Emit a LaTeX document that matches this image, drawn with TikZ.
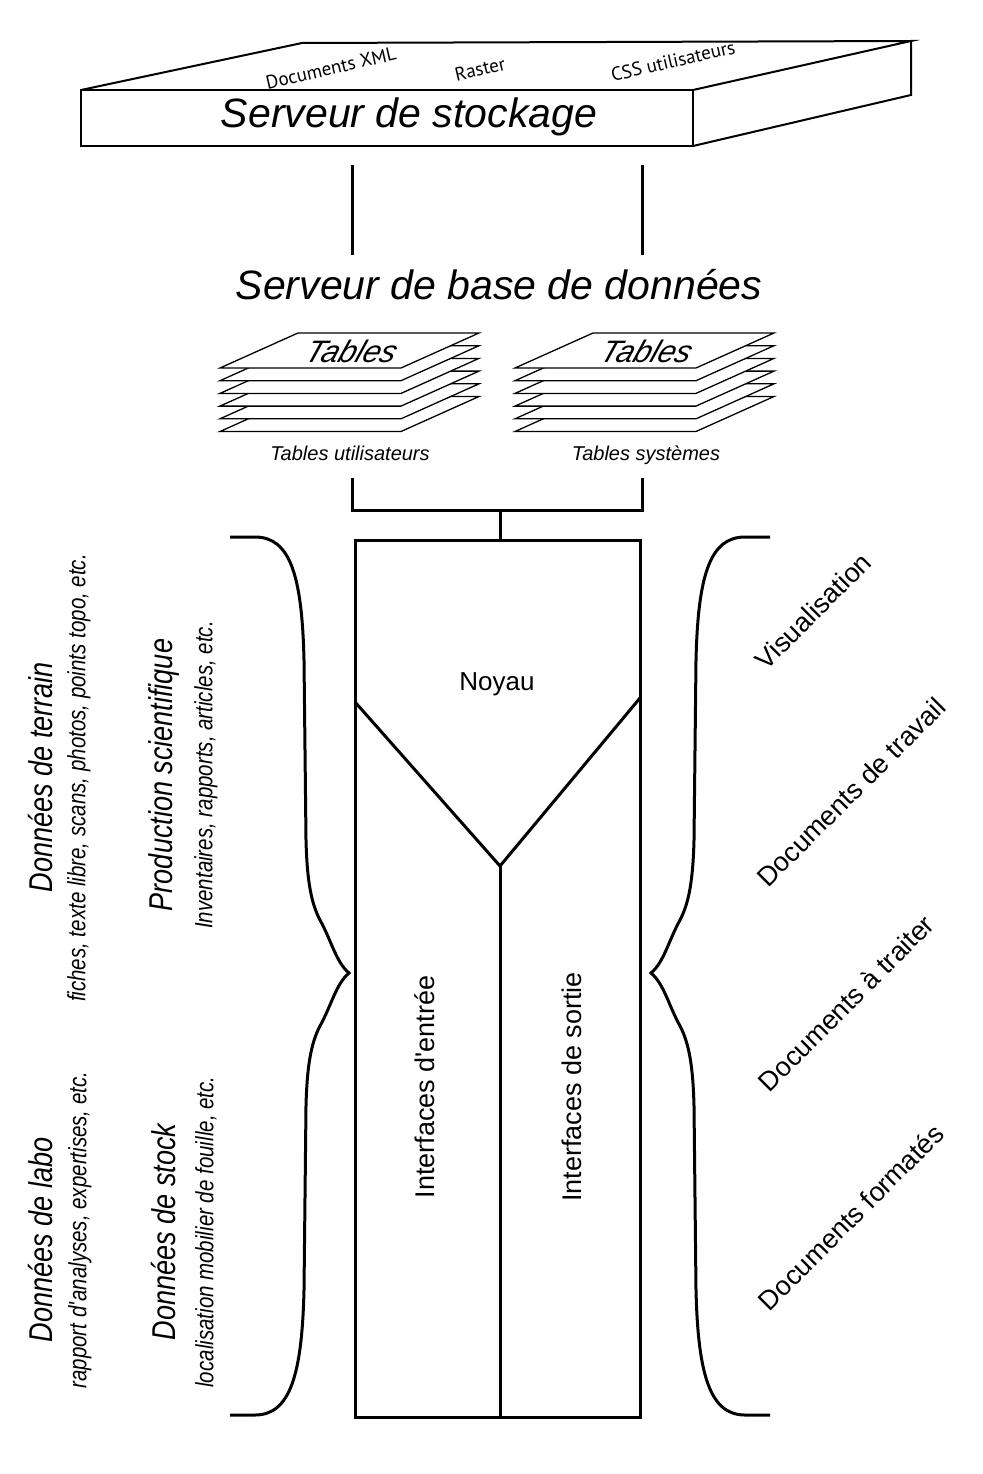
\documentclass[tikz,border=0pt]{standalone}
\usepackage{fontspec}
\setmainfont{Liberation Sans}
\newfontfamily\narrowfont[FakeStretch=0.82]{Liberation Sans}
\newfontfamily\humanist{PT Sans}
\newcommand{\fs}[1]{\fontsize{#1}{#1}\selectfont}
\begin{document}
\begin{tikzpicture}[x=1pt,y=-1pt,line join=miter,
  thick3/.style={line width=3},
  boxline/.style={line width=2},
  sheet/.style={fill=white,draw,line width=1.3},
  toptext/.style={font=\humanist\fs{19},rotate=13,inner sep=0},
  lefthead/.style={font=\narrowfont\itshape\fs{33},rotate=90,inner sep=0},
  leftsub/.style={font=\narrowfont\itshape\fs{25},rotate=90,inner sep=0},
  righttext/.style={font=\fs{27},rotate=45,inner sep=0},
  captext/.style={font=\itshape\fs{20},inner sep=0,anchor=base},
  brace/.style={line width=3,line cap=butt}]
\useasboundingbox (0,0) rectangle (982,1474);
\fill[white] (0,0) rectangle (982,1474);

% storage server
\node[draw,boxline,minimum width=612,minimum height=56,inner sep=0,outer sep=0] (stor) at (387,118) {};
\coordinate (bl) at (302,43);
\coordinate (br) at (911,41);
\coordinate (brb) at (911,95);
\draw[boxline] (stor.north west) -- (bl) -- (br) -- (stor.north east);
\draw[boxline] (stor.south east) -- (brb) -- (br);
\node[font=\itshape\fs{41},inner sep=0] (storlabel) at (409,117) {Serveur de stockage};
\node[toptext] (xml) at (331,68) {Documents XML};
\node[toptext] (raster) at (480,69) {Raster};
\node[toptext] (css) at (673,61) {CSS utilisateurs};

% links to DB server
\coordinate (la) at (352,165); \coordinate (lb) at (352,255);
\coordinate (ra) at (642,165); \coordinate (rb) at (642,255);
\draw[thick3] (la) -- (lb);
\draw[thick3] (ra) -- (rb);

\node[font=\itshape\fs{41},inner sep=0] (db) at (499,285) {Serveur de base de données};

% table stacks
\foreach \x/\n in {220/tu,515/ts}{
  \foreach \i in {5,4,...,0}{
    \filldraw[sheet] (\x,368+12.7*\i) -- ++(181,0) -- ++(78,-35) -- ++(-181,0) -- cycle;
  }
  \node[font=\itshape\fs{31},xslant=0.35,inner sep=0] (\n tab) at (\x+132,351) {Tables};
}
\node[captext] (tu) at (350,460) {Tables utilisateurs};
\node[captext] (ts) at (646,460) {Tables systèmes};

% core block
\node[draw,thick3,minimum width=285,minimum height=877,inner sep=0,outer sep=0] (core) at (497.5,978.5) {};
\coordinate (tua) at (352,478);
\coordinate (tsa) at (642,478);
\coordinate (j) at (500,510);
\draw[thick3] (tua) -- (352,510) -- (642,510) -- (tsa);
\draw[thick3] (j) -- (j |- core.north);
\coordinate (vl) at (core.west |- 0,702);
\coordinate (vr) at (core.east |- 0,698);
\coordinate (vm) at (500,866);
\draw[thick3] (vl) -- (vm) -- (vr);
\draw[thick3] (vm) -- (vm |- core.south);
\node[font=\fs{26},inner sep=0] (noyau) at (497,684) {Noyau};
\node[font=\fs{27},rotate=90,inner sep=0] (ie) at (425,1087) {Interfaces d\textquotesingle entrée};
\node[font=\fs{27},rotate=90,inner sep=0] (is) at (572,1087) {Interfaces de sortie};

% braces
\draw[brace] (230,537) -- (255,537) .. controls (290,537) and (302,575) .. (304,660) -- (306,840)
  .. controls (307,880) and (311,903) .. (320,920)
  .. controls (332,942) and (336,962) .. (349,973)
  .. controls (336,984) and (332,1004) .. (320,1026)
  .. controls (311,1043) and (307,1066) .. (306,1106) -- (304,1290)
  .. controls (302,1375) and (290,1415) .. (255,1415) -- (230,1415);
\draw[brace] (770,537) -- (745,537) .. controls (710,537) and (698,575) .. (696,660) -- (694,840)
  .. controls (693,880) and (689,903) .. (680,920)
  .. controls (668,942) and (664,962) .. (651,973)
  .. controls (664,984) and (668,1004) .. (680,1026)
  .. controls (689,1043) and (693,1066) .. (694,1106) -- (696,1290)
  .. controls (698,1375) and (710,1415) .. (745,1415) -- (770,1415);

% left texts
\node[lefthead] (terrain) at (41,777) {Données de terrain};
\node[leftsub] (terrainsub) at (79,778) {fiches, texte libre, scans, photos, points topo, etc.};
\node[lefthead] (prod) at (164,775) {Production scientifique};
\node[leftsub] (prodsub) at (206,775) {Inventaires, rapports, articles, etc.};
\node[lefthead] (labo) at (41,1240) {Données de labo};
\node[leftsub] (labosub) at (80,1230) {rapport d\textquotesingle analyses, expertises, etc.};
\node[lefthead] (stock) at (164,1232) {Données de stock};
\node[leftsub] (stocksub) at (206,1232) {localisation mobilier de fouille, etc.};

% right texts
\node[righttext] (visu) at (813,611) {Visualisation};
\node[righttext] (travail) at (851,792) {Documents de travail};
\node[righttext] (traiter) at (846,1003) {Documents à traiter};
\node[righttext] (formates) at (851,1217) {Documents formatés};
\end{tikzpicture}
\end{document}
